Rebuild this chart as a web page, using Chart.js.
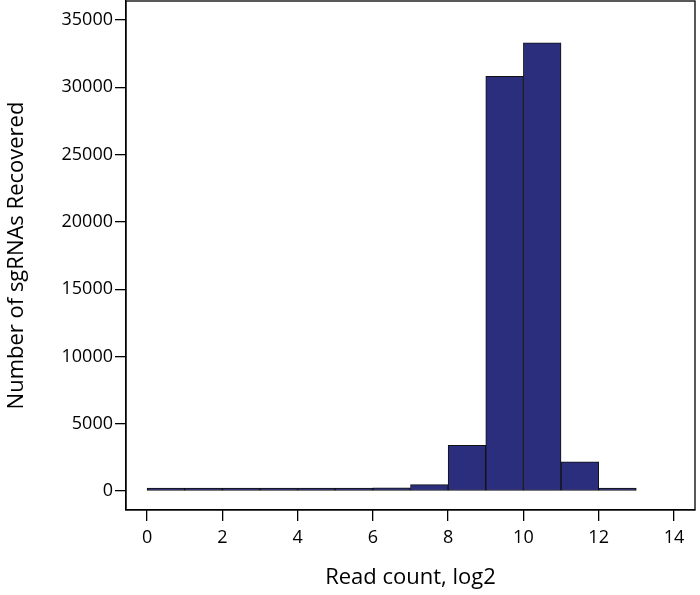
<!DOCTYPE html>
<html>
<head>
<meta charset="utf-8">
<script src="https://cdn.jsdelivr.net/npm/chart.js@4"></script>
<style>
  html, body { margin: 0; padding: 0; background: #fff; }
  #wrap { width: 700px; height: 595px; }
</style>
</head>
<body>
<div id="wrap"><canvas id="histChart"></canvas></div>
<script>
// histogram bins (log2 read count) and counts
const binStarts = [0, 1, 2, 3, 4, 5, 6, 7, 8, 9, 10, 11, 12];
const binCounts = [10, 15, 30, 100, 200, 180, 250, 480, 3400, 30800, 33300, 2170, 15];
const xTicks = [0, 2, 4, 6, 8, 10, 12, 14];
const yTicks = [0, 5000, 10000, 15000, 20000, 25000, 30000, 35000];

const fontFamily = '"Open Sans", "Noto Sans", sans-serif';

// draw the full frame round the plot area
const boxPlugin = {
  id: 'box',
  afterDraw(chart) {
    const a = chart.chartArea;
    const ctx = chart.ctx;
    ctx.save();
    ctx.strokeStyle = '#000';
    ctx.lineWidth = 1.3;
    ctx.strokeRect(a.left, a.top, a.right - a.left, a.bottom - a.top);
    ctx.restore();
  }
};

const ctx = document.getElementById('histChart').getContext('2d');
new Chart(ctx, {
  type: 'bar',
  data: {
    datasets: [{
      data: binStarts.map((b, i) => ({ x: b + 0.5, y: binCounts[i] })),
      backgroundColor: '#2b2e7c',
      borderColor: '#111',
      borderWidth: 1,
      borderSkipped: false,
      minBarLength: 3,
      barPercentage: 1,
      categoryPercentage: 1
    }]
  },
  options: {
    responsive: true,
    maintainAspectRatio: false,
    animation: false,
    layout: { padding: { top: 1, right: 5, left: 0, bottom: 0 } },
    plugins: { legend: { display: false }, tooltip: { enabled: false } },
    scales: {
      x: {
        type: 'linear',
        min: -0.56,
        max: 14.56,
        offset: false,
        afterBuildTicks: s => { s.ticks = xTicks.map(v => ({ value: v })); },
        afterFit: s => { s.height = 85; s.paddingLeft = 0; s.paddingRight = 0; },
        grid: { offset: false, drawOnChartArea: false, drawTicks: true, tickLength: 11, color: '#000', lineWidth: 1.3 },
        border: { color: '#000', width: 1.3 },
        ticks: { color: '#000', font: { family: fontFamily, size: 18 }, padding: 6, maxRotation: 0, callback: v => String(v) },
        title: { display: true, text: 'Read count, log2', color: '#000', font: { family: fontFamily, size: 22 }, padding: { top: 4, bottom: 4 } }
      },
      y: {
        min: -1400,
        max: 36400,
        afterBuildTicks: s => { s.ticks = yTicks.map(v => ({ value: v })); },
        afterFit: s => { s.width = 126; s.paddingTop = 0; s.paddingBottom = 0; },
        grid: { drawOnChartArea: false, drawTicks: true, tickLength: 11, color: '#000', lineWidth: 1.3 },
        border: { color: '#000', width: 1.3 },
        ticks: { color: '#000', font: { family: fontFamily, size: 18 }, padding: 2, callback: v => String(v) },
        title: { display: true, text: 'Number of sgRNAs Recovered', color: '#000', font: { family: fontFamily, size: 22 }, padding: { top: 4, bottom: 4 } }
      }
    }
  },
  plugins: [boxPlugin]
});
</script>
</body>
</html>
